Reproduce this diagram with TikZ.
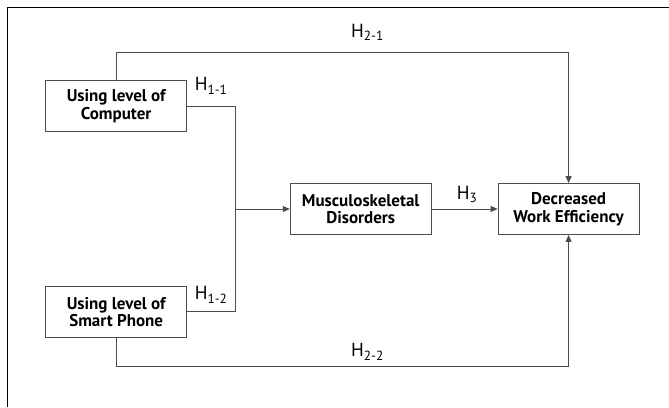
\documentclass[tikz,border=0pt]{standalone}
\usepackage{fontspec}
\setmainfont{PT Sans}
\usetikzlibrary{positioning,arrows.meta}

\begin{document}
\begin{tikzpicture}[
    x=1pt, y=1pt,
    node distance=154pt and 66pt,
    box/.style={draw=black!70, line width=0.9pt, rectangle, align=center, minimum width=141pt, minimum height=51pt, inner sep=2pt, font=\fontsize{17}{17.5}\selectfont\bfseries},
    hyp/.style={anchor=base west, inner sep=0pt, font=\fontsize{19}{20}\selectfont},
    link/.style={draw=black!70, line width=0.9pt},
    arrow/.style={link, -{Triangle[length=7pt,width=6pt]}}
]
\useasboundingbox (0,0) rectangle (669,407);

% outer frame (top and left only)
\draw[line width=0.9pt] (7.7,0) -- (7.7,399.7) -- (669,399.7);

% boxes
\node[box] (comp) at (116.2,301) {Using level of\\Computer};
\node[box, below=of comp] (phone) {Using level of\\Smart Phone};
\node[box] (musc) at (360.7,198) {Musculoskeletal\\Disorders};
\node[box, right=of musc] (dec) {Decreased\\Work Efficiency};

\coordinate (junc) at (235.3,198);
\coordinate (top) at (116.2,355);
\coordinate (bot) at (116.2,41);

% H1 paths into the junction
\draw[link] (comp.east) -| (junc);
\draw[link] (phone.east) -| (junc);
\draw[arrow] (junc) -- (musc.west);

% H3
\draw[arrow] (musc.east) -- (dec.west);

% H2 paths round the outside
\draw[link] (comp.north) -- (top);
\draw[arrow] (top) -| (dec.north);
\draw[link] (phone.south) -- (bot);
\draw[arrow] (bot) -| (dec.south);

% hypothesis labels
\node[hyp] (h11) at (194.7,316) {H\textsubscript{1-1}};
\node[hyp] (h12) at (194.7,107) {H\textsubscript{1-2}};
\node[hyp] (h3) at (456.7,207.7) {H\textsubscript{3}};
\node[hyp] (h21) at (351,369.7) {H\textsubscript{2-1}};
\node[hyp] (h22) at (351,50.3) {H\textsubscript{2-2}};

\end{tikzpicture}
\end{document}
